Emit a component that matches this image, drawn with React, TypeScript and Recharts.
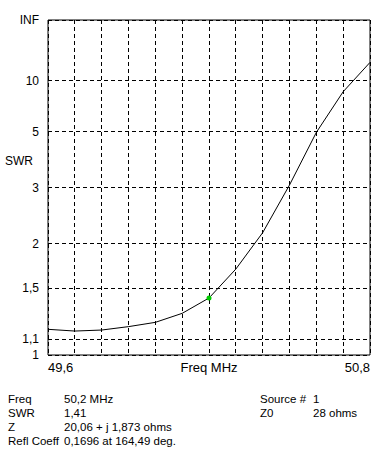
import React from 'react';
import { LineChart, Line, XAxis, YAxis, CartesianGrid, ReferenceArea, ReferenceDot } from 'recharts';

// Frequency sweep (MHz) and SWR
const freqs = [49.6, 49.7, 49.8, 49.9, 50.0, 50.1, 50.2, 50.3, 50.4, 50.5, 50.6, 50.7, 50.8];
const swrValues = [1.166, 1.154, 1.161, 1.185, 1.216, 1.284, 1.41, 1.69, 2.15, 3.06, 4.96, 8.34, 14.8];

// Axis ticks
const xGridTicks = [49.6, 49.7, 49.8, 49.9, 50.0, 50.1, 50.2, 50.3, 50.4, 50.5, 50.6, 50.7, 50.8];
const xTickValues = [49.6, 50.2, 50.8];
const xTickLabels = ['49,6', 'Freq MHz', '50,8'];
const yTickSwr = [1, 1.1, 1.5, 2, 3, 5, 10, Infinity];
const yTickLabels = ['1', '1,1', '1,5', '2', '3', '5', '10', 'INF'];

// Marker
const markerFreq = 50.2;
const markerSwr = 1.41;

// Info block
const infoLeftLabels = ['Freq', 'SWR', 'Z', 'Refl Coeff'];
const infoLeftValues = ['50,2 MHz', '1,41', '20,06 + j 1,873 ohms', '0,1696 at 164,49 deg.'];
const infoRightLabels = ['Source #', 'Z0'];
const infoRightValues = ['1', '28 ohms'];

// SWR -> reflection coefficient magnitude (the chart's vertical scale)
const toRho = (s: number) => (s === Infinity ? 1 : (s - 1) / (s + 1));

const data = freqs.map((f, i) => ({ f, rho: toRho(swrValues[i]) }));
const yTickRho = yTickSwr.map(toRho);

const FONT = '"Liberation Sans", Arial, sans-serif';

const XTick = (props: any) => {
  const { x, y, payload } = props;
  const idx = xTickValues.findIndex((v) => Math.abs(v - payload.value) < 1e-6);
  if (idx < 0) return <g />;
  const anchor = idx === 0 ? 'start' : idx === xTickValues.length - 1 ? 'end' : 'middle';
  return (
    <text x={x} y={y + 17} textAnchor={anchor} fontSize={13} fill="#000" fontFamily={FONT}>
      {xTickLabels[idx]}
    </text>
  );
};

const yFormatter = (v: number) => {
  let best = 0;
  yTickRho.forEach((r, i) => {
    if (Math.abs(r - v) < Math.abs(yTickRho[best] - v)) best = i;
  });
  return yTickLabels[best];
};

export default function App() {
  return (
    <div
      style={{
        position: 'absolute',
        left: 0,
        top: 0,
        width: 391,
        height: 458,
        background: '#fff',
        fontFamily: FONT,
        color: '#000',
        overflow: 'hidden',
      }}
    >
      <style>{`.recharts-cartesian-grid line, .recharts-reference-area rect { shape-rendering: crispEdges; }`}</style>
      <LineChart width={391} height={385} data={data} margin={{ top: 20, right: 21, bottom: 0, left: 0 }}>
        <CartesianGrid stroke="#000" strokeDasharray="4 3" />
        <XAxis
          dataKey="f"
          type="number"
          domain={[49.6, 50.8]}
          ticks={xGridTicks}
          interval={0}
          height={30}
          axisLine={false}
          tickLine={false}
          tickSize={0}
          tickMargin={0}
          tick={<XTick />}
        />
        <YAxis
          type="number"
          domain={[0, 1]}
          ticks={yTickRho}
          interval={0}
          width={48}
          axisLine={false}
          tickLine={false}
          tickSize={6}
          tickMargin={3}
          tickFormatter={yFormatter}
          tick={{ fill: '#000', fontSize: 12, fontFamily: FONT }}
        />
        <ReferenceArea x1={49.6} x2={50.8} y1={0} y2={1} fill="none" stroke="#000" strokeWidth={1} fillOpacity={0} />
        <Line dataKey="rho" type="linear" stroke="#000" strokeWidth={1} dot={false} isAnimationActive={false} />
        <ReferenceDot x={markerFreq} y={toRho(markerSwr)} r={2.5} fill="#00cc00" stroke="none" />
      </LineChart>
      <div style={{ position: 'absolute', left: 5, top: 154, fontSize: 12, lineHeight: '14px' }}>SWR</div>
      {infoLeftLabels.map((t, i) => (
        <React.Fragment key={t}>
          <div style={{ position: 'absolute', left: 8, top: 392 + i * 14, fontSize: 11.5, lineHeight: '14px', whiteSpace: 'nowrap' }}>{t}</div>
          <div style={{ position: 'absolute', left: 64, top: 392 + i * 14, fontSize: 11.5, lineHeight: '14px', whiteSpace: 'nowrap' }}>{infoLeftValues[i]}</div>
        </React.Fragment>
      ))}
      {infoRightLabels.map((t, i) => (
        <React.Fragment key={t}>
          <div style={{ position: 'absolute', left: 260, top: 392 + i * 14, fontSize: 11.5, lineHeight: '14px', whiteSpace: 'nowrap' }}>{t}</div>
          <div style={{ position: 'absolute', left: 313, top: 392 + i * 14, fontSize: 11.5, lineHeight: '14px', whiteSpace: 'nowrap' }}>{infoRightValues[i]}</div>
        </React.Fragment>
      ))}
    </div>
  );
}
